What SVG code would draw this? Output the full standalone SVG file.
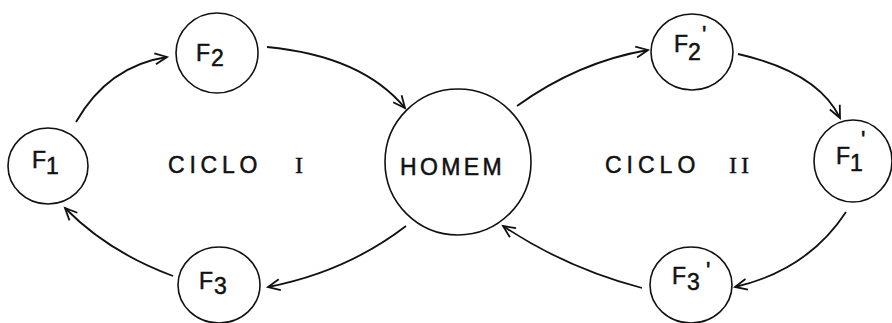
<svg xmlns="http://www.w3.org/2000/svg" width="892" height="323" viewBox="0 0 892 323">
<style>
.node{fill:#fff;stroke:#111;stroke-width:1.6}
.lbl{font-family:"Liberation Sans",Arial,sans-serif;font-size:23px;fill:#111;stroke:#111;stroke-width:0.5}
.big{font-family:"Liberation Sans",Arial,sans-serif;font-size:23px;fill:#111;stroke:#111;stroke-width:0.5}
.rom{font-family:"Liberation Serif","Times New Roman",serif;font-size:24px;fill:#111;stroke:#111;stroke-width:0.4}
.edge{fill:none;stroke:#111;stroke-width:1.8;marker-end:url(#ah)}
</style>
<defs>
<marker id="ah" markerUnits="userSpaceOnUse" markerWidth="16" markerHeight="14" refX="13" refY="6" orient="auto" viewBox="0 0 16 12">
<path d="M1,0.5 L13,6 L1,11.5" fill="none" stroke="#111" stroke-width="1.8"/>
</marker>
</defs>
<rect width="892" height="323" fill="#fff"/>
<g id="connectors">
<path class="edge" d="M76,122 Q108,66 167,57"/>
<path class="edge" d="M267,47 Q362,56 405,108"/>
<path class="edge" d="M406,226 Q346,272 268,287"/>
<path class="edge" d="M173,276 Q108,252 65,208"/>
<path class="edge" d="M517,106 Q578,62 648,50"/>
<path class="edge" d="M738,54 Q818,72 840,118"/>
<path class="edge" d="M846,212 Q808,270 735,287"/>
<path class="edge" d="M642,288 Q566,268 503,226"/>
</g>
<g id="F1">
<ellipse class="node" cx="48" cy="166" rx="40" ry="38"/>
<text class="lbl" x="32" y="168">F</text><text class="lbl" x="46" y="174">1</text>
</g>
<g id="F2">
<ellipse class="node" cx="217" cy="53" rx="41" ry="40"/>
<text class="lbl" x="196" y="61">F</text><text class="lbl" x="211" y="66">2</text>
</g>
<g id="F3">
<ellipse class="node" cx="219" cy="285" rx="41" ry="38"/>
<text class="lbl" x="199" y="289">F</text><text class="lbl" x="214" y="294">3</text>
</g>
<g id="HOMEM">
<circle class="node" cx="458" cy="162" r="73"/>
<text class="big" x="400" y="175" style="letter-spacing:3.4px">HOMEM</text>
</g>
<g id="F2p">
<ellipse class="node" cx="692" cy="52" rx="41" ry="38"/>
<text class="lbl" x="674" y="52">F</text><text class="lbl" x="688" y="60">2</text><text class="lbl" x="702" y="43">'</text>
</g>
<g id="F1p">
<ellipse class="node" cx="853" cy="161" rx="39" ry="41"/>
<text class="lbl" x="836" y="164">F</text><text class="lbl" x="850" y="171">1</text><text class="lbl" x="861" y="148">'</text>
</g>
<g id="F3p">
<ellipse class="node" cx="691" cy="285" rx="41" ry="38"/>
<text class="lbl" x="672" y="284">F</text><text class="lbl" x="687" y="290">3</text><text class="lbl" x="706" y="279">'</text>
</g>
<g id="labels">
<text class="big" x="168" y="173" style="letter-spacing:4.8px">CICLO</text>
<text class="rom" x="295" y="173">I</text>
<text class="big" x="605" y="173" style="letter-spacing:5px">CICLO</text>
<text class="rom" x="729" y="173" style="letter-spacing:4px">II</text>
</g>
</svg>
